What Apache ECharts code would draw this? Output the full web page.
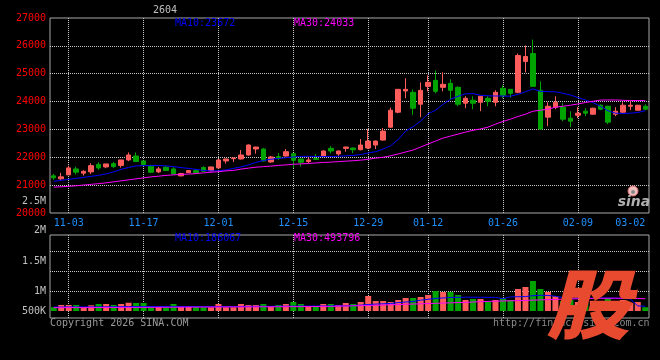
<!DOCTYPE html>
<html>
<head>
<meta charset="utf-8">
<script src="https://cdn.jsdelivr.net/npm/echarts@6/dist/echarts.min.js"></script>
<style>html,body{margin:0;padding:0;background:#000;}#c{width:660px;height:360px;}</style>
</head>
<body>
<div id="c"></div>
<script>
var dates = ['10-30','10-31','11-03','11-04','11-05','11-06','11-07','11-10','11-11','11-12','11-13','11-14','11-17','11-18','11-19','11-20','11-21','11-24','11-25','11-26','11-27','11-28','12-01','12-02','12-03','12-04','12-05','12-08','12-09','12-10','12-11','12-12','12-15','12-16','12-17','12-18','12-19','12-22','12-23','12-24','12-25','12-26','12-29','12-30','12-31','01-05','01-06','01-07','01-08','01-09','01-12','01-13','01-14','01-15','01-16','01-19','01-20','01-21','01-22','01-23','01-26','01-27','01-28','01-29','01-30','02-02','02-03','02-04','02-05','02-06','02-09','02-10','02-11','02-12','02-13','02-24','02-25','02-26','02-27','03-02'];
var tickLabels = ['11-03','11-17','12-01','12-15','12-29','01-12','01-26','02-09','03-02'];
var gridDates = ['11-03','11-17','12-01','12-15','12-29','01-12','01-26','02-09'];

var opens = [21333,21226,21369,21583,21430,21476,21744,21654,21772,21708,21904,22047,21869,21680,21476,21643,21583,21333,21450,21522,21630,21511,21619,21869,21950,21940,22083,22297,22297,21833,22024,22047,22130,21940,21845,21950,22030,22320,22119,22320,22330,22272,22333,22440,22618,23082,23618,24380,24332,23904,24547,24761,24511,24654,24511,23940,24047,23975,24118,23975,24475,24439,24332,25439,25725,24404,23440,23797,23797,23404,23511,23654,23547,23868,23832,23547,23618,23832,23690,23832];
var closes = [21261,21297,21619,21465,21495,21700,21619,21761,21665,21904,22083,21850,21744,21465,21583,21522,21404,21415,21522,21450,21500,21654,21904,21940,21976,22083,22440,22368,21869,22012,21966,22200,21893,21820,21904,21925,22226,22226,22226,22368,22270,22440,22583,22583,22940,23690,24439,24439,23761,24404,24690,24368,24618,24404,23904,24118,23940,24190,24011,24332,24225,24297,25654,25618,24547,23011,23832,23975,23368,23297,23582,23582,23761,23725,23261,23654,23868,23868,23868,23725];
var lows = [21190,21190,21369,21380,21345,21395,21547,21608,21619,21630,21860,21833,21730,21430,21430,21511,21395,21320,21430,21440,21476,21490,21600,21772,21830,21920,22060,22130,21850,21800,21904,22030,21608,21665,21797,21915,22010,22140,22047,22200,22150,22250,22297,22297,22600,23060,23580,24118,23520,23440,24368,24297,24368,24082,23832,23761,23725,23654,23832,23832,24118,24140,24300,25047,24540,22990,23118,23725,23297,23082,23404,23475,23530,23690,23190,23475,23582,23690,23680,23690];
var highs = [21404,21440,21700,21665,21535,21785,21820,21761,21833,21904,22174,22174,21880,21736,21654,21700,21643,21440,21540,21583,21680,21665,21940,21950,21990,22260,22465,22380,22330,22047,22154,22297,22140,21950,21990,22119,22250,22400,22240,22380,22350,22654,23011,22600,23047,23785,24439,24832,24439,24690,24939,25118,25047,24797,24547,24190,24190,24200,24190,24404,24582,24450,25725,26011,26225,24725,23975,24190,23940,23654,23797,23761,23780,23904,23850,23797,23975,24011,23880,23904];
var ma10 = [21136,21172,21208,21244,21279,21315,21351,21404,21476,21565,21636,21690,21701,21701,21708,21690,21665,21629,21601,21565,21529,21511,21511,21547,21601,21654,21726,21815,21886,21929,21958,21986,22011,22029,22036,22029,22029,22029,22036,22054,22065,22100,22154,22201,22297,22415,22636,22940,23100,23297,23565,23690,23904,24082,24190,24279,24286,24225,24208,24200,24200,24190,24261,24350,24457,24368,24357,24350,24297,24236,24143,24057,23965,23833,23672,23583,23572,23583,23608,23672];
var ma30 = [20929,20940,20958,20976,21004,21029,21054,21083,21119,21155,21190,21226,21262,21297,21322,21351,21369,21387,21397,21415,21440,21465,21483,21511,21529,21576,21611,21644,21665,21683,21708,21726,21751,21761,21779,21797,21815,21826,21844,21861,21876,21897,21929,21969,22001,22054,22118,22190,22261,22369,22476,22583,22690,22761,22833,22904,22968,23018,23083,23190,23286,23368,23465,23547,23654,23690,23726,23797,23833,23868,23915,23965,24011,24054,24058,24058,24047,24036,24036,24033];
var volumes = [562000,600000,600000,600000,562000,595000,617000,617000,600000,617000,638000,633000,633000,567000,578000,562000,617000,578000,578000,578000,562000,562000,617000,562000,562000,617000,600000,600000,617000,578000,600000,617000,650000,617000,578000,578000,617000,617000,600000,633000,617000,650000,750000,667000,667000,650000,683000,717000,717000,733000,767000,833000,817000,817000,767000,683000,700000,700000,650000,683000,717000,683000,867000,900000,1000000,867000,817000,750000,667000,683000,650000,633000,667000,650000,717000,650000,683000,633000,650000,562000];
var volMa10 = [566000,566000,567000,567000,568000,568000,569000,569000,570000,571000,573000,574000,575000,575000,575000,576000,576000,575000,575000,574000,573000,573000,574000,574000,575000,576000,577000,578000,578000,578000,579000,580000,581000,582000,582000,582000,583000,584000,585000,586000,590000,598000,608000,615000,620000,625000,640000,650000,658000,680000,695000,710000,717000,725000,728000,730000,730000,728000,727000,727000,705000,735000,738000,740000,755000,762000,760000,745000,725000,715000,712000,712000,712000,714000,715000,712000,710000,700000,585000,578000];
var volMa30 = [556000,556000,557000,557000,557000,558000,558000,558000,559000,559000,560000,560000,561000,561000,562000,562000,563000,564000,565000,565000,566000,566000,567000,567000,568000,568000,569000,569000,570000,570000,571000,572000,572000,573000,574000,575000,576000,577000,580000,583000,586000,589000,592000,596000,600000,604000,608000,612000,616000,620000,624000,628000,632000,636000,640000,644000,650000,655000,660000,664000,667000,670000,673000,677000,681000,685000,689000,693000,697000,700000,704000,707000,710000,712000,713000,713000,712000,710000,708000,705000];
var volLabels = ['2.5M','2M','1.5M','1M','500K'];
var priceTitle = '2604';
var maText = ['MA10:23672','MA30:24033'];
var volMaText = ['MA10:186067','MA30:493796'];

var UP = '#ff5c5c', DOWN = '#00a400';
var MONO = '"DejaVu Sans Mono", monospace';
var GRIDC = '#c8c8c8', FRAME = '#a8a8a8';

var kData = dates.map(function(d,i){return [opens[i],closes[i],lows[i],highs[i]];});
var volData = volumes.map(function(v,i){return {value:v, itemStyle:{color: closes[i]>=opens[i]?UP:DOWN}};});

function catAxis(gi, withLabel, withSplit){
  return {type:'category', gridIndex:gi, data:dates, boundaryGap:true,
    axisLine:{show:false}, axisTick:{show:false},
    axisLabel:{show:withLabel, color:'#1e90ff', fontFamily:MONO, fontSize:10, margin:5,
      interval:function(i,v){return tickLabels.indexOf(v)>=0;}, alignMaxLabel:'right'},
    splitLine:{show:withSplit, alignWithLabel:true,
      interval:function(i,v){return gridDates.indexOf(v)>=0;},
      lineStyle:{color:GRIDC, type:'dotted', width:1}}};
}
function txt(text,x,y,fill,align){
  return {type:'text', x:x, y:y, z:50, silent:true,
    style:{text:text, fill:fill, font:'10px '+MONO, align:align||'left', verticalAlign:'middle'}};
}

var graphics = [
  txt(priceTitle,165,10,'#c0c0c0','center'),
  txt(maText[0],175,23.5,'#0000ff'),
  txt(maText[1],294,23.5,'#ff00ff'),
  txt(volMaText[0],175,238,'#0000ff'),
  txt(volMaText[1],294,238,'#ff00ff'),
  txt(volLabels[0],46,201,'#c0c0c0','right'),
  txt(volLabels[1],46,230,'#c0c0c0','right'),
  txt(volLabels[2],46,261,'#c0c0c0','right'),
  txt(volLabels[3],46,291,'#c0c0c0','right'),
  txt(volLabels[4],46,311,'#c0c0c0','right'),
  txt('Copyright 2026 SINA.COM',50,323,'#9a9a9a'),
  txt('http://finance.sina.com.cn',493,323,'#8a8a8a'),
  {type:'circle', z:60, shape:{cx:633,cy:191,r:5}, style:{fill:'#f0c0c0', stroke:'#e07070', lineWidth:1}},
  {type:'circle', z:61, shape:{cx:633,cy:192,r:2}, style:{fill:'#888'}},
  {type:'text', z:60, x:634, y:202, style:{text:'sina', fill:'#b0b0b0', font:'italic bold 14px "DejaVu Sans"', align:'center', verticalAlign:'middle'}},
  {type:'text', z:100, x:588, y:304, scaleX:1.1,
    style:{text:'股', fill:'#e84a30', font:'italic 900 76px "Noto Sans CJK SC"', align:'center', verticalAlign:'middle'}}
];

var option = {
  backgroundColor:'#000',
  animation:false,
  grid:[
    {left:50, right:11, top:18, height:195, show:true, borderColor:FRAME, borderWidth:1, backgroundColor:'transparent'},
    {left:50, right:11, top:235, height:83, show:true, borderColor:FRAME, borderWidth:1, backgroundColor:'transparent'},
    {left:50, right:11, top:235, height:76}
  ],
  xAxis:[ catAxis(0,true,true), catAxis(1,false,true), {type:'category', gridIndex:2, data:dates, show:false} ],
  yAxis:[
    {type:'value', gridIndex:0, min:20000, max:27000, interval:1000, axisLine:{show:false}, axisTick:{show:false},
      axisLabel:{color:'#ff0000', fontFamily:MONO, fontSize:10, margin:4, formatter:function(v){return String(v);}},
      splitLine:{show:true, showMinLine:false, showMaxLine:false, lineStyle:{color:GRIDC, type:'dotted'}}},
    {type:'value', gridIndex:1, min:0, max:1, show:false},
    {type:'value', gridIndex:2, min:500000, max:1766667, show:false},
    {type:'value', gridIndex:2, min:-16, max:60, interval:20, axisLine:{show:false}, axisTick:{show:false}, axisLabel:{show:false},
      splitLine:{show:true, showMinLine:false, showMaxLine:false, lineStyle:{color:GRIDC, type:'dotted'}}}
  ],
  series:[
    {type:'candlestick', xAxisIndex:0, yAxisIndex:0, data:kData, barWidth:5,
      itemStyle:{color:UP, color0:DOWN, borderColor:UP, borderColor0:DOWN, borderWidth:1}},
    {type:'line', xAxisIndex:0, yAxisIndex:0, data:ma10, showSymbol:false, symbol:'none', lineStyle:{color:'#0000ff', width:1}, z:5},
    {type:'line', xAxisIndex:0, yAxisIndex:0, data:ma30, showSymbol:false, symbol:'none', lineStyle:{color:'#ff00ff', width:1}, z:5},
    {type:'bar', xAxisIndex:2, yAxisIndex:2, data:volData, barWidth:6},
    {type:'line', xAxisIndex:2, yAxisIndex:2, data:volMa10, showSymbol:false, symbol:'none', lineStyle:{color:'#0000ff', width:1}, z:5},
    {type:'line', xAxisIndex:2, yAxisIndex:2, data:volMa30, showSymbol:false, symbol:'none', lineStyle:{color:'#ff00ff', width:1}, z:5}
  ],
  graphic:graphics
};
var chart = echarts.init(document.getElementById('c'), null, {renderer:'canvas'});
chart.setOption(option);
</script>
</body>
</html>
